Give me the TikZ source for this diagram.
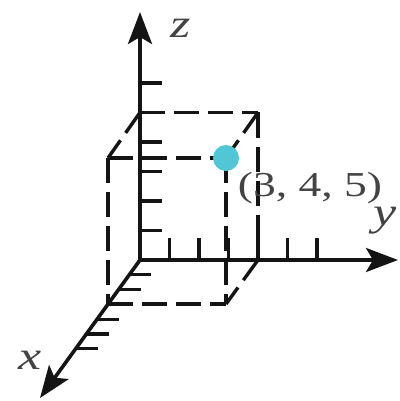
\documentclass[tikz,border=0pt]{standalone}
\usepackage{fontspec}
\setmainfont{Liberation Serif}
\usetikzlibrary{arrows.meta}
\definecolor{dotcyan}{RGB}{80,198,214}
\definecolor{ink}{RGB}{20,20,20}
\tikzset{
  axis/.style={draw=ink, line width=3.6pt, -{Stealth[length=32pt,width=24pt,inset=7pt]}},
  tickmark/.style={draw=ink, line width=3.2pt},
  boxedge/.style={draw=ink, line width=3.4pt, dash pattern=on 25pt off 9pt},
  axlabel/.style={font=\fontsize{40}{40}\selectfont\itshape, text=ink!80, inner sep=0pt},
  ptlabel/.style={font=\fontsize{35}{35}\selectfont, text=ink!80, inner sep=0pt},
}
\begin{document}
\begin{tikzpicture}[x=1pt,y=-1pt]
\useasboundingbox (0,0) rectangle (399,401);
% key points
\coordinate (O) at (140,260);
\coordinate (X3) at (108,304);
\coordinate (XY) at (226,304);
\coordinate (Y4) at (258,260);
\coordinate (Z5) at (140,112.5);
\coordinate (XZ) at (108,158);
\coordinate (P) at (226,158);
\coordinate (YZ) at (258,112.5);
\coordinate (Xtip) at (40,398);
\coordinate (Ytip) at (398,260);
\coordinate (Ztip) at (140,12);
% ticks
\foreach \k in {1,...,6} {
  \draw[tickmark] (140,260-29.5*\k) -- ++(22,0);
  \draw[tickmark] (140+29.5*\k,260) -- ++(0,-22);
  \draw[tickmark] (140-10.67*\k,260+14.8*\k) -- ++(22,0);
}
% box edges
\draw[boxedge] (Z5) -- (YZ);
\draw[boxedge] (Z5) -- (XZ);
\draw[boxedge] (XZ) -- (P);
\draw[boxedge] (YZ) -- (P);
\draw[boxedge] (YZ) -- (Y4);
\draw[boxedge] (XZ) -- (X3);
\draw[boxedge] (P) -- (XY);
\draw[boxedge] (X3) -- (XY);
\draw[boxedge] (Y4) -- (XY);
% axes
\draw[axis] (O) -- (Ztip);
\draw[axis] (O) -- (Ytip);
\draw[axis] (O) -- (Xtip);
% point
\node[circle, fill=dotcyan, minimum size=26pt, inner sep=0pt] (dot) at (P) {};
\node[ptlabel] (lbl) at (310,188) {\scalebox{1.3}[1]{(3, 4, 5)}};
\node[axlabel] (zl) at (181,28) {\scalebox{1.3}[1]{z}};
\node[axlabel] (yl) at (385,221) {\scalebox{1.3}[1]{y}};
\node[axlabel] (xl) at (30,360) {\scalebox{1.3}[1]{x}};
\end{tikzpicture}
\end{document}
